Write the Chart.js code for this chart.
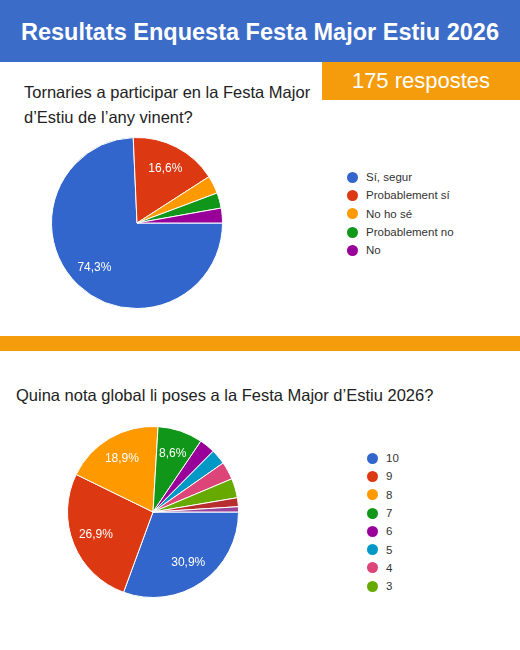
<!DOCTYPE html><html><head><meta charset="utf-8">
<script src="https://cdn.jsdelivr.net/npm/chart.js@4"></script>
<style>
body{margin:0;width:520px;height:650px;background:#fff;font-family:Arial,"Liberation Sans",sans-serif;position:relative;overflow:hidden}
.abs{position:absolute}
#bar{left:0;top:0;width:520px;height:62px;background:#3b6cc8;color:#fff;font-weight:bold;font-size:23.5px;line-height:64px;text-align:center}
#resp{left:322px;top:62px;width:198px;height:38px;background:#f59c0c;color:#fff;font-size:22px;line-height:38px;text-align:center}
.q{font-size:16.5px;color:#222;line-height:25px}
.leg{font-size:11.5px;color:#333}
.leg div{height:18.3px;line-height:18px;display:flex;align-items:center}
.leg span{display:inline-block;width:11px;height:11px;border-radius:50%;margin-right:8px}
#band{left:0;top:336px;width:520px;height:15px;background:#f59c0c}
</style></head><body>
<div id="bar" class="abs">Resultats Enquesta Festa Major Estiu 2026</div>
<div id="resp" class="abs">175 respostes</div>
<div class="abs q" style="left:24px;top:80px">Tornaries a participar en la Festa Major<br>d’Estiu de l’any vinent?</div>
<div class="abs" style="left:49px;top:135px;width:176px;height:176px"><canvas id="c1"></canvas></div>
<div id="l1" class="abs leg" style="left:347px;top:168px"></div>
<div id="band" class="abs"></div>
<div class="abs q" style="left:16px;top:383px">Quina nota global li poses a la Festa Major d’Estiu 2026?</div>
<div class="abs" style="left:65px;top:424px;width:176px;height:176px"><canvas id="c2"></canvas></div>
<div id="l2" class="abs leg" style="left:367px;top:449px"></div>
<script>
const cats1=["Sí, segur","Probablement sí","No ho sé","Probablement no","No"];
const vals1=[74.3,16.6,3.4,2.9,2.8];
const cols1=["#3366cc","#dc3912","#ff9900","#109618","#990099"];
const cats2=["10","9","8","7","6","5","4","3","2","1"];
const vals2=[30.9,26.9,18.9,8.6,3.0,2.9,3.4,3.7,1.7,1.0];
const cols2=["#3366cc","#dc3912","#ff9900","#109618","#990099","#0099c6","#dd4477","#66aa00","#b82e2e","#994499"];
const lbl={id:'lbl',afterDatasetsDraw(ch){const c=ch.ctx;const ds=ch.data.datasets[0];
 ch.getDatasetMeta(0).data.forEach((a,i)=>{const v=ds.data[i];if(v<5)return;
 const m=(a.startAngle+a.endAngle)/2,r=a.outerRadius*0.72;const x=a.x+Math.cos(m)*r,y=a.y+Math.sin(m)*r;
 c.save();c.fillStyle='#fff';c.font='12px Arial';c.textAlign='center';c.textBaseline='middle';
 c.fillText(v.toFixed(1).replace('.',',')+'%',x,y);c.restore();});}};
function mk(id,cats,vals,cols){new Chart(document.getElementById(id),{type:'pie',
 data:{labels:cats,datasets:[{data:vals,backgroundColor:cols,borderColor:'#fff',borderWidth:1}]},
 options:{rotation:90,responsive:true,maintainAspectRatio:false,animation:false,layout:{padding:2},
 plugins:{legend:{display:false},tooltip:{enabled:false}}},plugins:[lbl]});}
mk('c1',cats1,vals1,cols1);mk('c2',cats2,vals2,cols2);
function leg(id,cats,cols,n){document.getElementById(id).innerHTML=cats.slice(0,n).map((t,i)=>`<div><span style="background:${cols[i]}"></span>${t}</div>`).join('');}
leg('l1',cats1,cols1,5);leg('l2',cats2,cols2,8);
</script></body></html>
